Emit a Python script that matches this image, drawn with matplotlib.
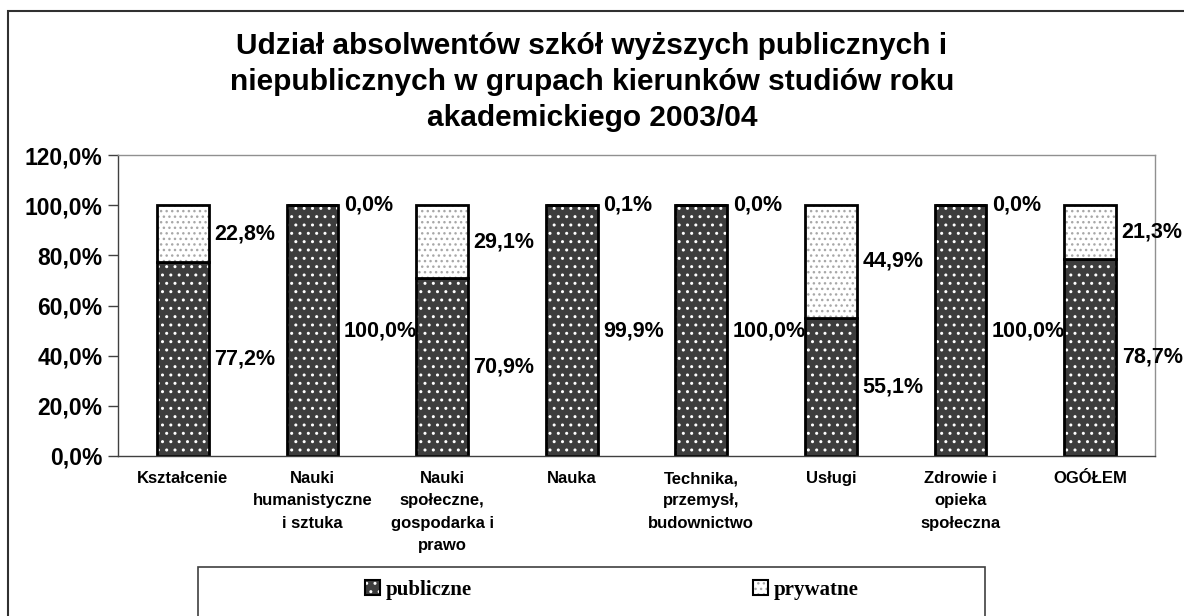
import matplotlib
matplotlib.use("Agg")
import matplotlib.pyplot as plt
import numpy as np
from matplotlib.patches import Patch, Rectangle
from matplotlib.legend_handler import HandlerTuple
from matplotlib.ticker import FuncFormatter, MultipleLocator

plt.rcParams['font.family'] = ['Liberation Sans', 'DejaVu Sans']
plt.rcParams['hatch.linewidth'] = 1.0

categories = ['Kształcenie', 'Nauki\nhumanistyczne\ni sztuka',
              'Nauki\nspołeczne,\ngospodarka i\nprawo', 'Nauka',
              'Technika,\nprzemysł,\nbudownictwo', 'Usługi',
              'Zdrowie i\nopieka\nspołeczna', 'OGÓŁEM']
publiczne = [77.2, 100.0, 70.9, 99.9, 100.0, 55.1, 100.0, 78.7]
prywatne = [22.8, 0.0, 29.1, 0.1, 0.0, 44.9, 0.0, 21.3]

dark = '#3d3d3d'
bw = 0.4
fs = 15.5

fig = plt.figure(figsize=(11.84, 6.16), dpi=100)
ax = fig.add_axes([118/1184, 1 - 456/616, (1155 - 118)/1184, (456 - 155)/616])

x = np.arange(len(categories))
pub = np.array(publiczne)
pry = np.array(prywatne)

# publiczne: dark face + white dots
ax.bar(x, pub, width=bw, color=dark, edgecolor='none', linewidth=0)
ax.bar(x, pub, width=bw, color='none', edgecolor='white', hatch='..', linewidth=0)
ax.bar(x, pub, width=bw, color='none', edgecolor='black', linewidth=2)
# prywatne: white face + grey dots
ax.bar(x, pry, bottom=pub, width=bw, color='white', edgecolor='none', linewidth=0)
ax.bar(x, pry, bottom=pub, width=bw, color='none', edgecolor='#a8a8a8', hatch='...', linewidth=0)
ax.bar(x, pry, bottom=pub, width=bw, color='none', edgecolor='black', linewidth=2)

def fmt(v):
    return ('%.1f%%' % v).replace('.', ',')

for i in range(len(categories)):
    ax.annotate(fmt(pub[i]), xy=(x[i] + bw/2, pub[i]/2), xytext=(4, 0),
                textcoords='offset points', ha='left', va='center',
                fontsize=fs, fontweight='bold')
    ax.annotate(fmt(pry[i]), xy=(x[i] + bw/2, pub[i] + pry[i]/2), xytext=(4, 0),
                textcoords='offset points', ha='left', va='center',
                fontsize=fs, fontweight='bold')

ax.set_xlim(-0.5, len(categories) - 0.5)
ax.set_ylim(0, 120)
ax.yaxis.set_major_locator(MultipleLocator(20))
ax.yaxis.set_major_formatter(FuncFormatter(lambda v, p: fmt(v)))
ax.set_xticks(x)
ax.set_xticklabels(categories, fontsize=12, fontweight='bold', linespacing=1.6, va='top')
ax.tick_params(axis='x', length=0, pad=11)
ax.tick_params(axis='y', length=7, width=1, color='#404040', pad=4, labelsize=16.5)
for lab in ax.get_yticklabels():
    lab.set_fontweight('bold')

ax.spines['left'].set_color('#404040')
ax.spines['bottom'].set_color('#404040')
ax.spines['top'].set_color('#909090')
ax.spines['right'].set_color('#909090')
for s in ax.spines.values():
    s.set_linewidth(1)

fig.text(0.5, 1 - 82/616, 'Udział absolwentów szkół wyższych publicznych i\n'
         'niepublicznych w grupach kierunków studiów roku\nakademickiego 2003/04',
         ha='center', va='center', fontsize=21.5, fontweight='bold', linespacing=1.38)

# outer chart border
fig.patches.append(Rectangle((8/1184, -0.1), 1.2, 1.1 - 11/616, transform=fig.transFigure,
                             fill=False, edgecolor='#303030', linewidth=1.5))
# legend box
fig.patches.append(Rectangle((198/1184, -0.1), (985 - 198)/1184, 0.1 + 49/616,
                             transform=fig.transFigure, fill=False,
                             edgecolor='#404040', linewidth=1.2))

h_pub = (Patch(facecolor=dark, edgecolor='none'),
         Patch(facecolor='none', edgecolor='white', hatch='..', linewidth=0),
         Patch(facecolor='none', edgecolor='black', linewidth=1.5))
h_pry = (Patch(facecolor='white', edgecolor='none'),
         Patch(facecolor='none', edgecolor='#a8a8a8', hatch='...', linewidth=0),
         Patch(facecolor='none', edgecolor='black', linewidth=1.5))
fig.legend([h_pub, h_pry], ['publiczne', 'prywatne'],
           handler_map={tuple: HandlerTuple(ndivide=1)},
           loc='center', bbox_to_anchor=(612/1184, 26/616), ncol=2, frameon=False,
           handlelength=0.7, handleheight=0.7, handletextpad=0.3, columnspacing=13.5,
           prop={'family': 'Liberation Serif', 'weight': 'bold', 'size': 15})

fig.savefig('out.png', dpi=100)
